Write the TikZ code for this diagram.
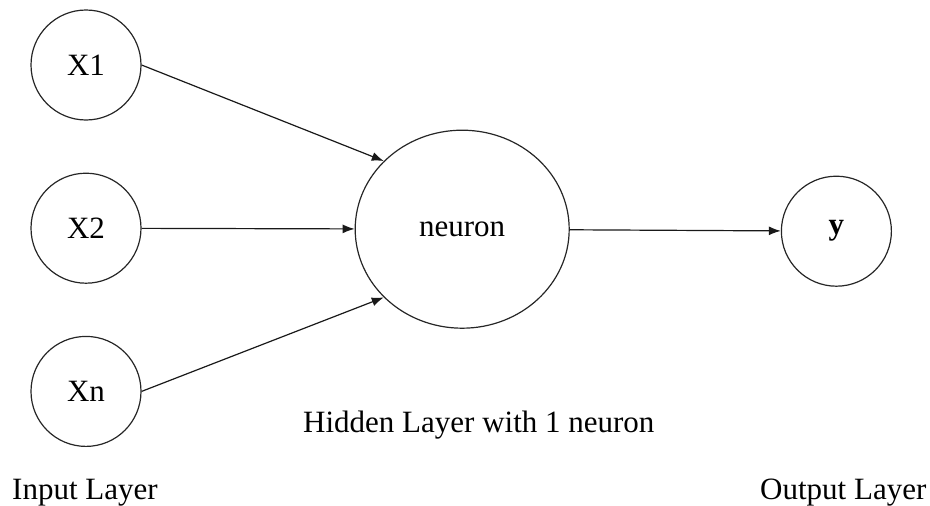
\documentclass[tikz,border=0pt]{standalone}
\usepackage{fontspec}
\setmainfont{Liberation Serif}
\usetikzlibrary{shapes,arrows.meta,positioning}

\begin{document}
\begin{tikzpicture}[
    x=1pt, y=-1pt,
    node distance=52pt and 213pt,
    every node/.style={font=\fontsize{31}{37}\selectfont},
    unit/.style={circle, draw=black!85, line width=1.2pt, minimum size=110pt, inner sep=0pt},
    cell/.style={ellipse, draw=black!85, line width=1.2pt, minimum width=214pt, minimum height=198pt, inner sep=0pt},
    caption/.style={anchor=base west, inner sep=0pt},
    link/.style={-{Latex[length=12pt,width=9pt]}, line width=1.2pt, black!90}
    ]

    \useasboundingbox (0,0) rectangle (930,506);

    % Input layer
    \node[unit] (x1) at (86,65) {X1};
    \node[unit, below=of x1] (x2) {X2};
    \node[unit, below=of x2] (xn) {Xn};

    % Hidden neuron and output
    \node[cell, right=of x2, yshift=-1pt] (neuron) {neuron};
    \node[unit, right=211pt of neuron, yshift=-2pt] (y) {\bfseries y};

    % Connections
    \draw[link] (x1.east) -- (neuron.139);
    \draw[link] (x2) -- (neuron);
    \draw[link] (xn.east) -- (neuron.221);
    \draw[link] (neuron) -- (y);

    % Layer labels
    \node[caption] (hidlbl) at (303,432) {Hidden Layer with 1 neuron};
    \node[caption] (inlbl) at (12,499) {Input Layer};
    \node[caption] (outlbl) at (760,499) {Output Layer};

\end{tikzpicture}
\end{document}
